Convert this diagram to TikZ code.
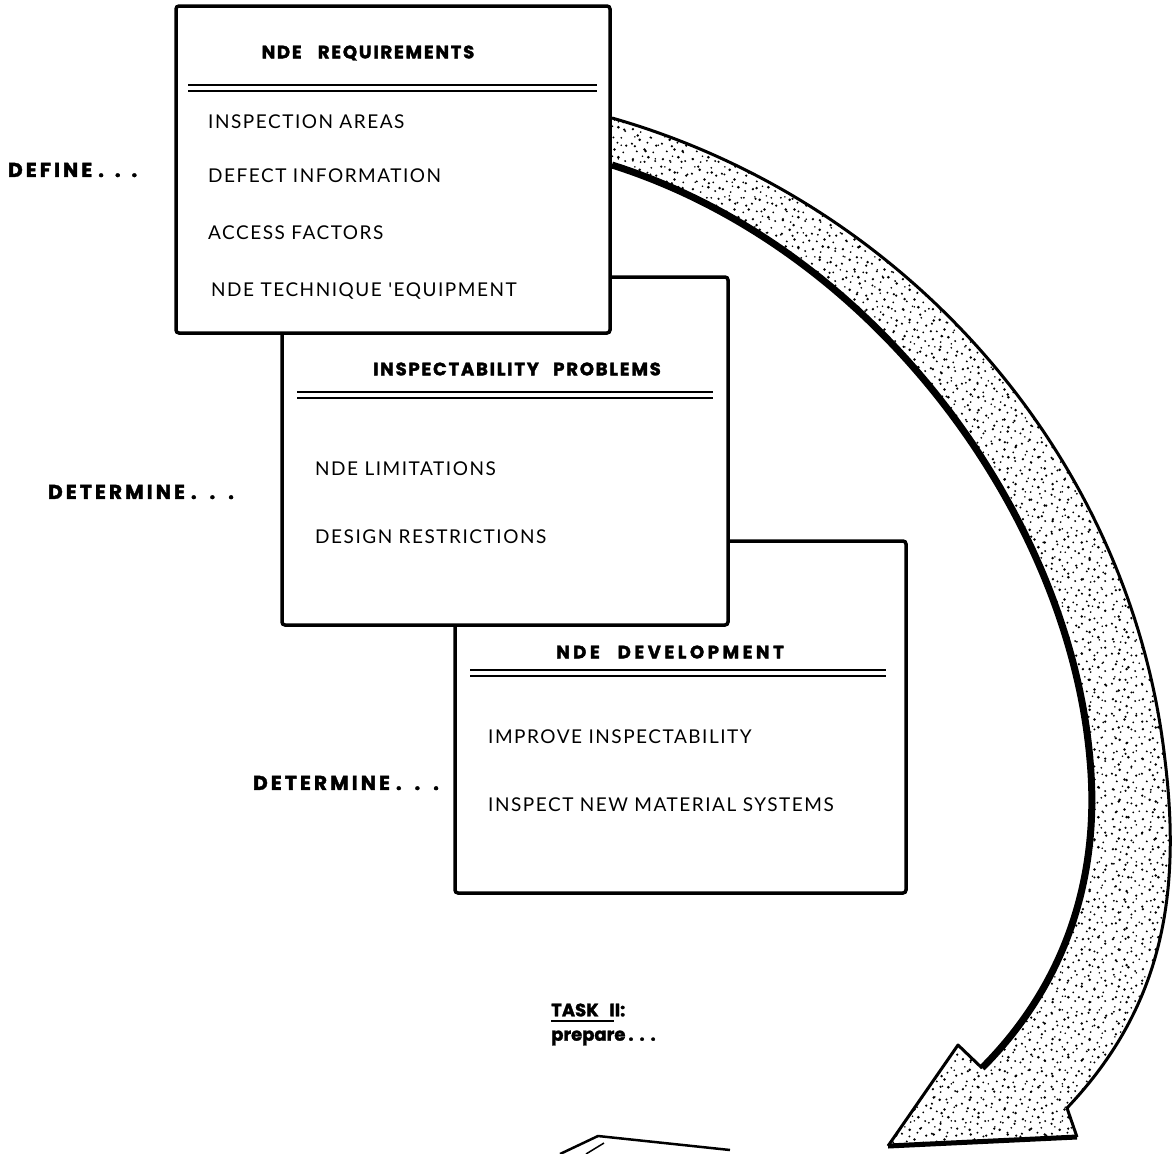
\documentclass[tikz,border=0pt]{standalone}
\usepackage{fontspec}
\setmainfont{Lato}
\newfontfamily\itemf{Lato}[LetterSpace=8]
\newfontfamily\titlef{Poppins}[LetterSpace=10,BoldFeatures={FakeBold=2}]
\newfontfamily\titlefw{Poppins}[LetterSpace=20,BoldFeatures={FakeBold=2}]
\newfontfamily\lblf{Poppins}[LetterSpace=16,BoldFeatures={FakeBold=2}]
\newfontfamily\taskf{Poppins}[BoldFeatures={FakeBold=1.5}]
\usetikzlibrary{patterns}
\pgfdeclarepatternformonly{stippleA}{\pgfqpoint{0pt}{0pt}}{\pgfqpoint{30pt}{30pt}}{\pgfqpoint{30pt}{30pt}}{%
  \pgfpathcircle{\pgfqpoint{3pt}{5pt}}{1.3pt}
  \pgfpathcircle{\pgfqpoint{11pt}{2pt}}{1.0pt}
  \pgfpathcircle{\pgfqpoint{19pt}{7pt}}{1.5pt}
  \pgfpathcircle{\pgfqpoint{26pt}{3pt}}{1.1pt}
  \pgfpathcircle{\pgfqpoint{7pt}{13pt}}{1.1pt}
  \pgfpathcircle{\pgfqpoint{15pt}{15pt}}{1.4pt}
  \pgfpathcircle{\pgfqpoint{24pt}{12pt}}{1.0pt}
  \pgfpathcircle{\pgfqpoint{2pt}{21pt}}{1.2pt}
  \pgfpathcircle{\pgfqpoint{10pt}{25pt}}{1.5pt}
  \pgfpathcircle{\pgfqpoint{18pt}{22pt}}{1.1pt}
  \pgfpathcircle{\pgfqpoint{27pt}{19pt}}{1.3pt}
  \pgfpathcircle{\pgfqpoint{13pt}{8pt}}{0.9pt}
  \pgfpathcircle{\pgfqpoint{22pt}{27pt}}{1.0pt}
  \pgfpathcircle{\pgfqpoint{5pt}{28pt}}{0.9pt}
  \pgfusepath{fill}}
\pgfdeclarepatternformonly{stippleB}{\pgfqpoint{0pt}{0pt}}{\pgfqpoint{37pt}{37pt}}{\pgfqpoint{37pt}{37pt}}{%
  \pgfpathcircle{\pgfqpoint{6pt}{9pt}}{1.2pt}
  \pgfpathcircle{\pgfqpoint{17pt}{4pt}}{1.4pt}
  \pgfpathcircle{\pgfqpoint{30pt}{10pt}}{1.0pt}
  \pgfpathcircle{\pgfqpoint{9pt}{20pt}}{1.5pt}
  \pgfpathcircle{\pgfqpoint{22pt}{18pt}}{1.1pt}
  \pgfpathcircle{\pgfqpoint{33pt}{26pt}}{1.3pt}
  \pgfpathcircle{\pgfqpoint{4pt}{32pt}}{1.0pt}
  \pgfpathcircle{\pgfqpoint{16pt}{31pt}}{1.2pt}
  \pgfpathcircle{\pgfqpoint{27pt}{34pt}}{0.9pt}
  \pgfusepath{fill}}
\begin{document}
\begin{tikzpicture}[x=1pt,y=-1pt,
  boxst/.style={draw=black,fill=white,line width=3.5pt,rounded corners=3pt},
  rulest/.style={line width=2pt},
  item/.style={anchor=west,inner sep=0pt,font=\itemf\fontsize{19}{19}\selectfont},
  ttl/.style={inner sep=0pt,font=\titlef\bfseries\fontsize{18}{18}\selectfont},
  lbl/.style={anchor=west,inner sep=0pt,font=\lblf\bfseries\fontsize{20}{20}\selectfont},
  tsk/.style={anchor=west,inner sep=0pt,font=\taskf\bfseries\fontsize{18}{18}\selectfont}]
\useasboundingbox (0,0) rectangle (1176,1154);

% ---- big curved arrow ----
\coordinate (aTO) at (612,118);
\coordinate (aTI) at (612,165);
\coordinate (aBack) at (1067,1108);
\coordinate (aLow) at (1077,1137);
\coordinate (aTip) at (888,1146);
\coordinate (aBarb) at (958,1045);
\coordinate (aNotch) at (982,1068);
\def\arrowpath{(aTO) .. controls (900,200) and (1130,450) .. (1165,760)
  .. controls (1182,900) and (1160,1010) .. (aBack) -- (aLow) -- (aTip) -- (aBarb) -- (aNotch)
  .. controls (1070,980) and (1100,870) .. (1090,760)
  .. controls (1070,520) and (880,250) .. (aTI) -- cycle}
\fill[white] \arrowpath;
\fill[pattern=stippleA,pattern color=black] \arrowpath;
\fill[pattern=stippleB,pattern color=black] \arrowpath;
\draw[line width=3pt,line join=round] (aTO) .. controls (900,200) and (1130,450) .. (1165,760)
  .. controls (1182,900) and (1160,1010) .. (aBack) -- (aLow);
\draw[line width=5pt,line join=round] (aLow) -- (aTip);
\draw[line width=3pt,line join=round] (aTip) -- (aBarb) -- (aNotch);
\draw[line width=7pt] (aNotch) .. controls (1070,980) and (1100,870) .. (1090,760)
  .. controls (1070,520) and (880,250) .. (aTI);

% ---- box 3 ----
\node[boxst,minimum width=451pt,minimum height=352pt,inner sep=0pt] (b3) at (680.5,717) {};
\node[ttl,font=\titlefw\bfseries\fontsize{18}{18}\selectfont] (t3) at (670,652) {NDE\hspace{1em}DEVELOPMENT};
\draw[rulest] (470,670) -- (886,670);
\draw[rulest] (470,676) -- (886,676);
\node[item] (i31) at (488,737) {IMPROVE INSPECTABILITY};
\node[item] (i32) at (488,805) {INSPECT NEW MATERIAL SYSTEMS};

% ---- box 2 ----
\node[boxst,minimum width=446pt,minimum height=348pt,inner sep=0pt] (b2) at (505,451) {};
\node[ttl] (t2) at (517,369) {INSPECTABILITY\hspace{0.8em}PROBLEMS};
\draw[rulest] (297,392) -- (713,392);
\draw[rulest] (297,398) -- (713,398);
\node[item] (i21) at (315,469) {NDE LIMITATIONS};
\node[item] (i22) at (315,537) {DESIGN RESTRICTIONS};

% ---- box 1 ----
\node[boxst,minimum width=434pt,minimum height=327pt,inner sep=0pt] (b1) at (393,169.5) {};
\node[ttl] (t1) at (368,53) {NDE\hspace{0.9em}REQUIREMENTS};
\draw[rulest] (188,85) -- (597,85);
\draw[rulest] (188,91) -- (597,91);
\node[item] (i11) at (208,122) {INSPECTION AREAS};
\node[item] (i12) at (208,176) {DEFECT INFORMATION};
\node[item] (i13) at (208,233) {ACCESS FACTORS};
\node[item] (i14) at (211,291) {NDE TECHNIQUE 'EQUIPMENT};

% ---- side labels ----
\node[lbl] (l1) at (8,170) {DEFINE\hspace{6pt}.\hspace{11pt}.\hspace{11pt}.};
\node[lbl] (l2) at (48,492) {DETERMINE\hspace{6pt}.\hspace{13pt}.\hspace{13pt}.};
\node[lbl] (l3) at (253,783) {DETERMINE\hspace{6pt}.\hspace{13pt}.\hspace{13pt}.};
\node[tsk] (task) at (551,1010) {TASK\hspace{0.6em}II:};
\draw[line width=2pt] (task.south west) ++(0,4) -- ++(63,0);
\node[tsk] (prep) at (551,1038) {prepare\hspace{3pt}.\hspace{6pt}.\hspace{6pt}.};

% ---- fragment at bottom ----
\coordinate (f1) at (560,1154);
\coordinate (f2) at (598,1136);
\coordinate (f3) at (730,1150);
\coordinate (f4) at (586,1154);
\coordinate (f5) at (604,1143);
\draw[line width=2.5pt,line join=round] (f1) -- (f2) -- (f3);
\draw[line width=1.5pt] (f4) -- (f5);
\end{tikzpicture}
\end{document}
